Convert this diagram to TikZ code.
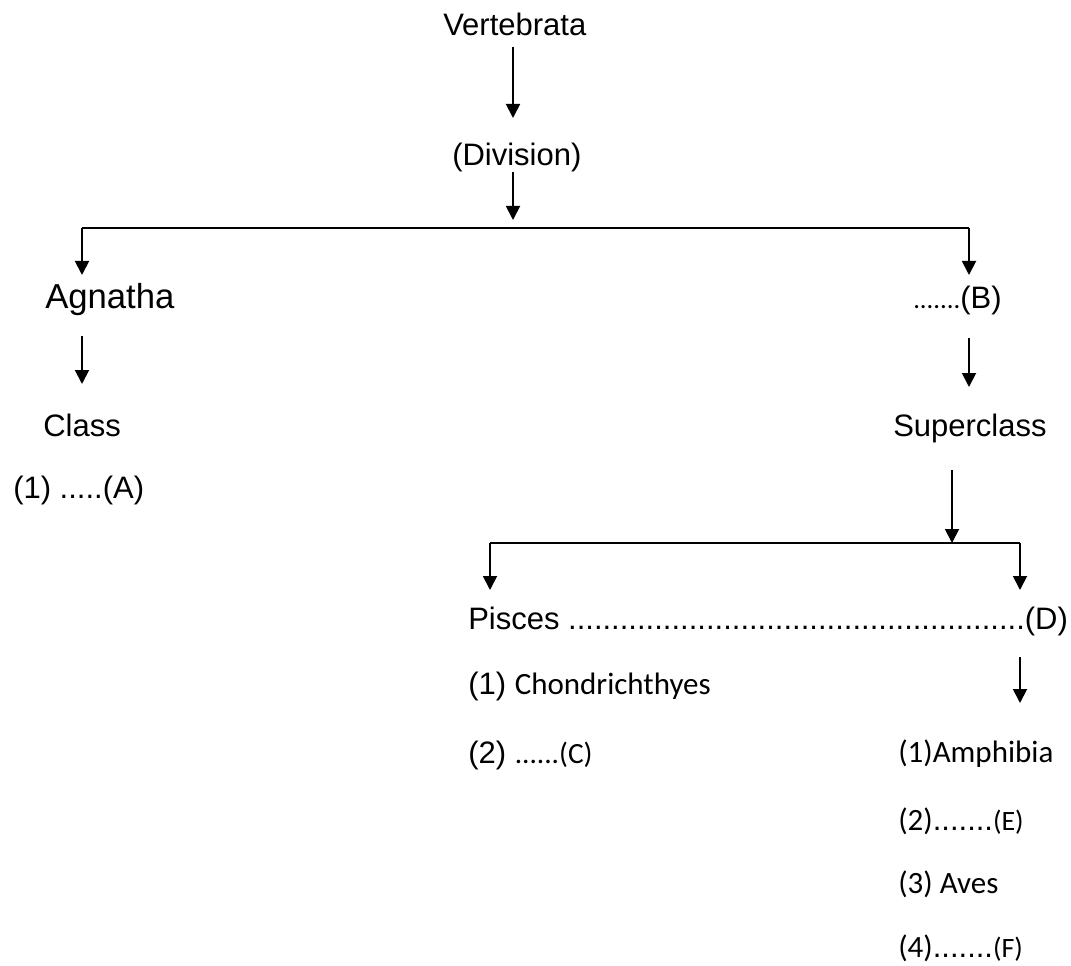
\documentclass[tikz,border=0pt]{standalone}
\usepackage{fontspec}
\setmainfont{Liberation Sans}
\newfontfamily\calfont{Carlito}
\usetikzlibrary{arrows.meta}
\begin{document}
\begin{tikzpicture}[x=0.75pt,y=-0.75pt,
  lbl/.style={anchor=base west,inner sep=0pt,font=\fontsize{23.25}{28}\selectfont},
  arr/.style={line width=1.4pt,-{Triangle[length=10.5pt,width=10.5pt]}},
  ln/.style={line width=1.5pt}]
\useasboundingbox[fill=white] (0,0) rectangle (1071,966);
% labels
\node[lbl] (vert) at (443,36) {Vertebrata};
\node[lbl] (div) at (452,166) {(Division)};
\node[lbl,font=\fontsize{26}{30}\selectfont] (agn) at (45,309) {Agnatha};
\node[lbl] (cls) at (43,436) {Class};
\node[lbl] (ca) at (13,498) {(1) .....(A)};
\node[lbl] (nb) at (913,309) {{\calfont\fontsize{20}{24}\selectfont .......}(B)};
\node[lbl] (sup) at (893,436) {Superclass};
\node[lbl] (pis) at (468,629) {Pisces .....................................................(D)};
\node[lbl] (chon) at (468,694) {(1) {\calfont Chondrichthyes}};
\node[lbl] (cc) at (468,763) {(2) {\calfont\fontsize{22}{26}\selectfont ......(C)}};
\node[lbl,font=\calfont\fontsize{23.25}{28}\selectfont] (amph) at (898,762) {(1)Amphibia};
\node[lbl] (ce) at (898,830) {{\calfont (2)}.......{\calfont\fontsize{21}{25}\selectfont (E)}};
\node[lbl,font=\calfont\fontsize{23.25}{28}\selectfont] (aves) at (898,893) {(3) Aves};
\node[lbl] (cf) at (898,957) {{\calfont (4)}.......{\calfont\fontsize{21}{25}\selectfont (F)}};
% connector points
\coordinate (v1) at (513,47);   \coordinate (v2) at (513,118);
\coordinate (d1) at (513,172);  \coordinate (d2) at (513,220);
\coordinate (bl) at (82,228);   \coordinate (br) at (969,228);
\coordinate (agnT) at (82,275); \coordinate (bT) at (969,275);
\coordinate (a1) at (82,336);   \coordinate (a2) at (82,384);
\coordinate (b1) at (969,338);  \coordinate (b2) at (969,387);
\coordinate (s1) at (952,470);  \coordinate (s2) at (952,543);
\coordinate (pl) at (490,543);  \coordinate (pr) at (1020,543);
\coordinate (pisT) at (490,590);\coordinate (dT) at (1020,590);
\coordinate (e1) at (1020,657); \coordinate (e2) at (1020,703);
% connectors
\draw[arr] (v1) -- (v2);
\draw[arr] (d1) -- (d2);
\draw[ln] (bl) -- (br);
\draw[arr] (bl) -- (agnT);
\draw[arr] (br) -- (bT);
\draw[arr] (a1) -- (a2);
\draw[arr] (b1) -- (b2);
\draw[arr] (s1) -- (s2);
\draw[ln] (pl) -- (pr);
\draw[arr] (pl) -- (pisT);
\draw[arr] (pr) -- (dT);
\draw[arr] (e1) -- (e2);
\end{tikzpicture}
\end{document}
